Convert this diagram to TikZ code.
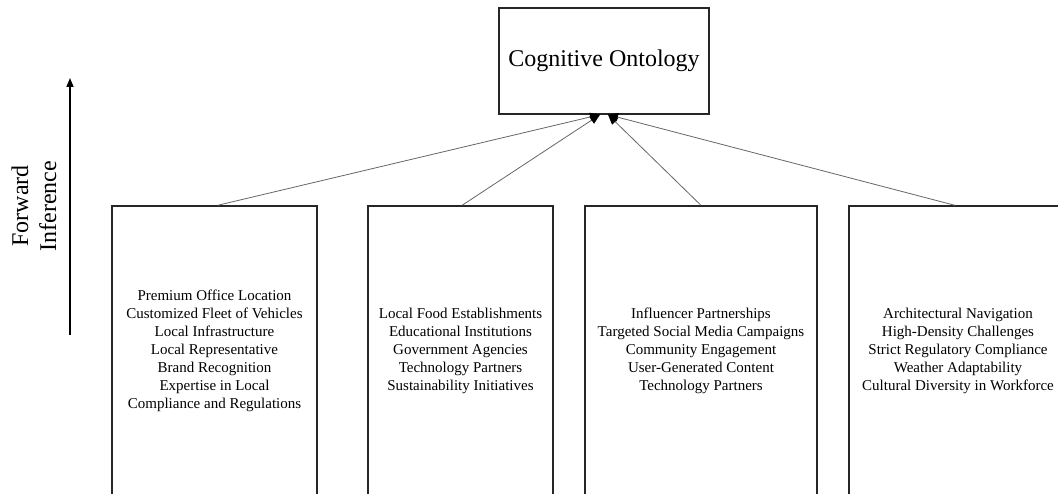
\documentclass[tikz,border=0pt]{standalone}
\usepackage{fontspec}
\setmainfont{Liberation Serif}
\usetikzlibrary{arrows.meta}

\tikzset{
  panel/.style={draw=black!85, line width=1.3pt, rectangle, inner sep=0pt,
    align=center, font=\fontsize{15}{18}\selectfont,
    minimum height=290pt},
  topbox/.style={draw=black!85, line width=1.3pt, rectangle, inner sep=0pt,
    minimum width=210pt, minimum height=106pt,
    font=\fontsize{24}{28}\selectfont},
  feed/.style={draw=black!60, line width=0.8pt,
    -{Triangle[length=10pt,width=8.5pt,color=black]}},
  axisarrow/.style={draw=black, line width=1.5pt,
    -{Triangle[length=9pt,width=7pt]}}
}

\begin{document}
\begin{tikzpicture}[x=1pt,y=-1pt]
  \useasboundingbox (0,0) rectangle (1058,494);
  \clip (0,0) rectangle (1058,494);

  % ontology at the top
  \node[topbox] (onto) at (604,61) {Cognitive Ontology};

  % four context panels
  \node[panel, minimum width=205pt] (p1) at (214.5,351)
    {Premium Office Location\\Customized Fleet of Vehicles\\Local Infrastructure\\Local Representative\\Brand Recognition\\Expertise in Local\\Compliance and Regulations};
  \node[panel, minimum width=185pt] (p2) at (460.5,351)
    {Local Food Establishments\\Educational Institutions\\Government Agencies\\Technology Partners\\Sustainability Initiatives};
  \node[panel, minimum width=232pt] (p3) at (701,351)
    {Influencer Partnerships\\Targeted Social Media Campaigns\\Community Engagement\\User-Generated Content\\Technology Partners};
  \node[panel, minimum width=218pt] (p4) at (958,351)
    {Architectural Navigation\\High-Density Challenges\\Strict Regulatory Compliance\\Weather Adaptability\\Cultural Diversity in Workforce};

  % connectors into the ontology
  \draw[feed] ([xshift=3pt]p1.north) -- ([xshift=-4pt]onto.south);
  \draw[feed] ([xshift=1.5pt]p2.north) -- ([xshift=-4pt]onto.south);
  \draw[feed] (p3.north) -- ([xshift=4pt]onto.south);
  \draw[feed] ([xshift=-3pt]p4.north) -- ([xshift=4pt]onto.south);

  % inference direction
  \coordinate (axlow) at (70,335);
  \coordinate (axhigh) at (70,78);
  \draw[axisarrow] (axlow) -- (axhigh);
  \node[rotate=90, align=center, font=\fontsize{24}{28}\selectfont] (axlabel) at (34,206)
    {Forward\\Inference};
\end{tikzpicture}
\end{document}
